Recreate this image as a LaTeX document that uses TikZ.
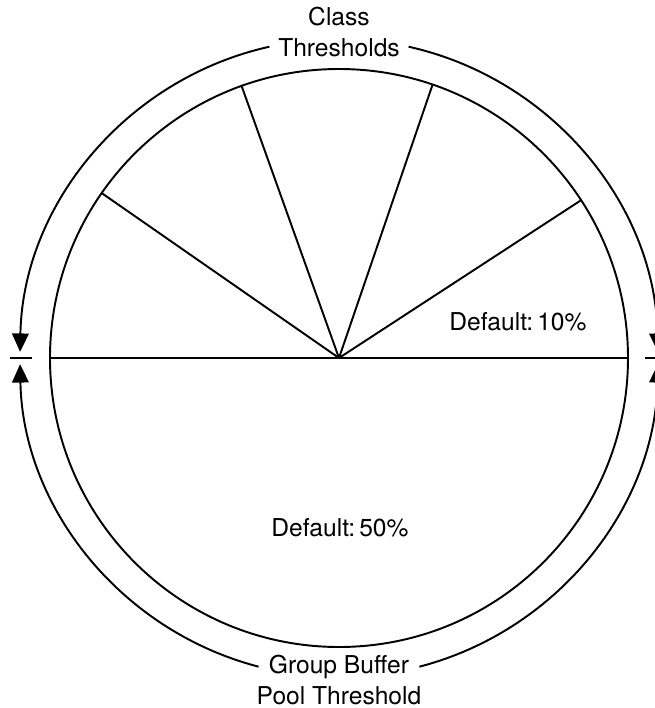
\documentclass[tikz,border=0pt]{standalone}
\usepackage{fontspec}
\setmainfont{TeX Gyre Heros}
\usetikzlibrary{arrows.meta,positioning}
\tikzset{
  ln/.style   = {draw=black, line width=1.1pt},
  thr/.style  = {ln, -{Triangle[length=10.5pt,width=9.5pt]}},
  lbl/.style  = {font=\fontsize{14pt}{17.5pt}\selectfont, align=center, inner sep=1pt},
}
\begin{document}
\begin{tikzpicture}[x=0.02cm, y=0.02cm]
  \useasboundingbox (-339,-350) rectangle (316,358);
  \coordinate (O) at (0,0);
  % pool circle and partitions
  \draw[ln] (O) circle[radius=289];
  \draw[ln] (-289,0) -- (289,0);
  \foreach \a in {145.2,109.7,71.1,33.1}
    \draw[ln] (O) -- (\a:289);
  % labels
  \node[lbl] (cls) at (0,326) {Class\\Thresholds};
  \node[lbl] (grp) at (0,-322) {Group Buffer\\Pool Threshold};
  \node[lbl] (d10) at (179,36) {Default:\,10\%};
  \node[lbl] (d50) at (1,-170) {Default:\,50\%};
  % threshold arrows
  \draw[thr] (102.6:319) arc[start angle=102.6, end angle=178.9, radius=319];
  \draw[thr] (77.4:319) arc[start angle=77.4, end angle=1.1, radius=319];
  \draw[thr] (255.4:319) arc[start angle=255.4, end angle=181.1, radius=319];
  \draw[thr] (284.6:319) arc[start angle=284.6, end angle=358.9, radius=319];
  % tick marks
  \draw[ln] (-329,0) -- (-307,0);
  \draw[ln] (306,0) -- (328,0);
\end{tikzpicture}
\end{document}
